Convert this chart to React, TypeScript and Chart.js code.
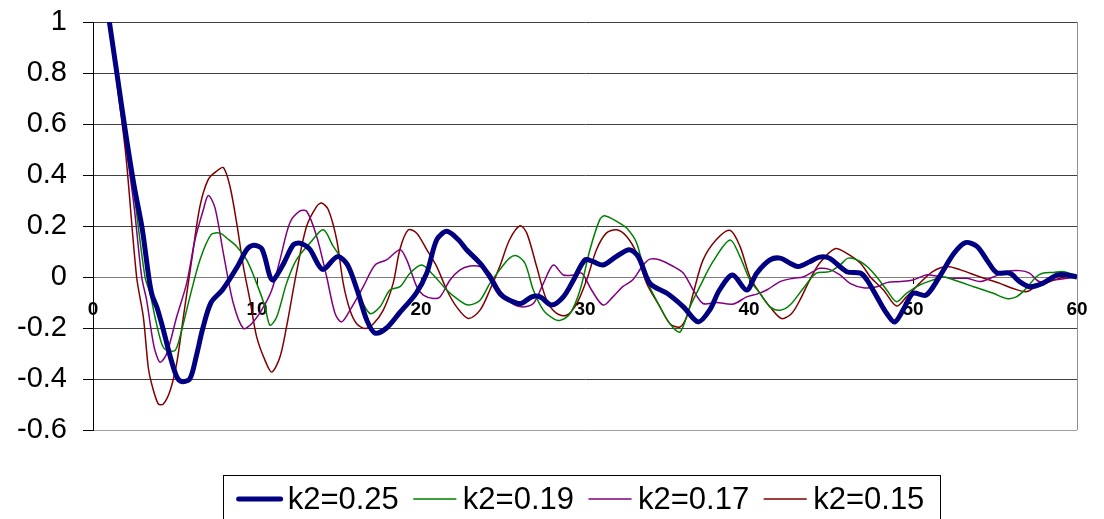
import React, { useEffect, useRef } from 'react';
import { Chart, registerables } from 'chart.js';

Chart.register(...registerables);

const seriesLabels = ['k2=0.25', 'k2=0.19', 'k2=0.17', 'k2=0.15'];
const seriesColors = ['#000080', '#008000', '#800080', '#800000'];
const seriesWidths = [5, 1.5, 1.5, 1.5];
const xTicks = [0, 10, 20, 30, 40, 50, 60];
const yTicks = [-0.6, -0.4, -0.2, 0, 0.2, 0.4, 0.6, 0.8, 1];

const k025: [number, number][] = [
  [1, 1.0], [1.5, 0.78], [2, 0.56], [2.5, 0.36], [3, 0.19], [3.4, 0.0], [3.6, -0.07], [3.9, -0.12],
  [4.3, -0.21], [4.7, -0.31], [5.1, -0.39], [5.4, -0.41], [5.9, -0.4], [6.3, -0.31], [6.7, -0.2],
  [7.2, -0.1], [7.9, -0.05], [8.8, 0.04], [9.4, 0.11], [9.8, 0.125], [10.3, 0.11], [10.8, 0.0],
  [11.0, -0.012], [11.6, 0.05], [12.2, 0.125], [12.6, 0.133], [13.2, 0.11], [14.0, 0.03], [14.9, 0.08],
  [15.5, 0.05], [16.1, -0.05], [16.7, -0.17], [17.2, -0.22], [17.9, -0.2], [18.7, -0.14], [19.7, -0.064],
  [20.35, 0.015], [20.96, 0.146], [21.57, 0.179], [22.28, 0.146], [22.78, 0.107], [23.6, 0.054],
  [24.2, 0.0], [24.8, -0.064], [25.4, -0.091], [26.1, -0.104], [26.75, -0.078], [27.26, -0.078],
  [27.97, -0.11], [28.68, -0.078], [29.3, -0.012], [30.0, 0.067], [30.5, 0.06], [31.1, 0.047],
  [31.9, 0.08], [32.7, 0.107], [33.25, 0.08], [33.96, -0.025], [35.0, -0.064], [36.0, -0.117],
  [36.9, -0.176], [37.6, -0.13], [38.2, -0.051], [39.0, 0.008], [39.86, -0.051], [40.47, 0.015],
  [41.28, 0.067], [41.9, 0.074], [42.5, 0.054], [43.0, 0.041], [43.7, 0.06], [44.3, 0.078],
  [44.9, 0.074], [45.96, 0.021], [46.8, 0.015], [47.2, -0.012], [47.8, -0.078], [48.4, -0.143],
  [48.9, -0.176], [49.5, -0.117], [50.0, -0.064], [50.8, -0.071], [51.6, 0.0], [52.5, 0.093],
  [53.2, 0.135], [53.9, 0.12], [54.5, 0.067], [55.1, 0.017], [55.9, 0.015], [56.5, -0.018],
  [57.1, -0.038], [57.9, -0.025], [58.8, 0.008], [59.4, 0.008], [60, 0.0],
];

const k019: [number, number][] = [
  [1, 1.0], [1.5, 0.77], [2, 0.54], [2.5, 0.33], [3.17, 0.0], [3.48, -0.064], [3.78, -0.157],
  [4.19, -0.262], [4.5, -0.288], [5.0, -0.288], [5.3, -0.235], [5.91, -0.078], [6.52, 0.067],
  [7.2, 0.166], [7.74, 0.172], [8.15, 0.153], [8.76, 0.12], [9.37, 0.067], [9.98, -0.025],
  [10.49, -0.117], [10.79, -0.189], [11.2, -0.157], [11.8, -0.025], [12.4, 0.067], [13.23, 0.133],
  [14.04, 0.185], [14.65, 0.12], [15.47, 0.041], [16.28, -0.078], [16.89, -0.143], [17.5, -0.117],
  [18.1, -0.051], [18.72, -0.038], [19.33, 0.015], [20.04, 0.047], [20.75, 0.008], [21.57, -0.051],
  [22.17, -0.084], [22.89, -0.11], [23.6, -0.091], [24.2, -0.025], [24.8, 0.028], [25.4, 0.074],
  [25.83, 0.083], [26.34, 0.054], [26.85, -0.051], [27.46, -0.13], [28.07, -0.163], [28.48, -0.17],
  [29.09, -0.143], [29.7, -0.051], [30.3, 0.107], [30.9, 0.225], [31.2, 0.24], [31.93, 0.218],
  [32.54, 0.192], [33.15, 0.133], [33.76, -0.012], [34.57, -0.117], [35.18, -0.183], [35.79, -0.216],
  [36.4, -0.117], [37.0, -0.038], [37.8, 0.06], [38.84, 0.145], [39.45, 0.08], [40.06, -0.012],
  [40.67, -0.064], [41.28, -0.117], [41.9, -0.13], [42.5, -0.11], [43.3, -0.045], [44.1, 0.015],
  [44.9, 0.021], [45.55, 0.047], [46.05, 0.074], [46.8, 0.06], [47.6, 0.015], [48.4, -0.051],
  [49.0, -0.097], [49.6, -0.064], [50.4, -0.032], [51.2, -0.012], [51.85, 0.0], [52.5, -0.012],
  [53.7, -0.038], [54.9, -0.064], [55.7, -0.084], [56.3, -0.078], [56.9, -0.045], [57.5, 0.0],
  [57.9, 0.015], [58.55, 0.018], [59.2, 0.021], [60, 0.004],
];

const k017: [number, number][] = [
  [1, 1.0], [1.5, 0.76], [2, 0.52], [2.5, 0.28], [2.97, 0.0], [3.27, -0.091], [3.58, -0.222],
  [3.78, -0.288], [4.09, -0.334], [4.49, -0.301], [5.1, -0.157], [5.71, -0.025], [6.22, 0.146],
  [6.73, 0.264], [7.03, 0.32], [7.44, 0.271], [7.95, 0.093], [8.56, -0.104], [9.17, -0.202],
  [9.67, -0.183], [10.28, -0.13], [10.9, -0.051], [11.4, 0.067], [12.0, 0.212], [12.6, 0.258],
  [13.03, 0.258], [13.64, 0.159], [14.25, 0.0], [14.76, -0.143], [15.16, -0.176], [15.67, -0.13],
  [16.48, -0.038], [17.2, 0.047], [17.9, 0.067], [18.72, 0.107], [19.13, 0.067], [19.74, -0.038],
  [20.14, -0.071], [20.75, -0.084], [21.16, -0.078], [21.77, -0.012], [22.38, 0.028], [22.99, 0.043],
  [23.6, 0.041], [24.2, 0.015], [24.8, -0.051], [25.4, -0.097], [26.1, -0.117], [26.85, -0.104],
  [27.46, -0.025], [28.07, 0.047], [28.68, 0.008], [29.3, 0.008], [29.8, 0.015], [30.4, -0.051],
  [31.1, -0.11], [31.7, -0.078], [32.3, -0.038], [32.9, -0.012], [33.55, 0.047], [33.96, 0.07],
  [34.57, 0.067], [35.4, 0.041], [36.0, 0.015], [36.6, -0.051], [37.2, -0.104], [38.0, -0.1],
  [39.04, -0.106], [39.86, -0.078], [40.47, -0.067], [41.08, -0.051], [41.9, -0.018], [42.7, -0.005],
  [43.3, 0.0], [43.9, 0.021], [44.3, 0.034], [44.9, 0.03], [45.55, 0.008], [46.16, -0.025],
  [46.97, -0.042], [47.8, -0.038], [48.4, -0.022], [49.2, -0.018], [50.0, -0.012], [50.8, 0.008],
  [51.4, 0.004], [52.5, -0.005], [53.3, -0.005], [54.1, -0.018], [54.9, 0.0], [55.7, 0.021],
  [56.5, 0.025], [57.1, 0.015], [57.7, -0.018], [58.55, -0.012], [59.4, -0.005], [60, 0.0],
];

const k015: [number, number][] = [
  [1, 1.0], [1.5, 0.74], [2, 0.48], [2.66, 0.0], [3.07, -0.157], [3.37, -0.355], [3.58, -0.42],
  [3.98, -0.498], [4.29, -0.498], [4.7, -0.446], [5.1, -0.34], [5.51, -0.157], [6.02, 0.067],
  [6.52, 0.277], [7.03, 0.383], [7.54, 0.415], [7.95, 0.429], [8.35, 0.356], [8.76, 0.212],
  [9.17, 0.041], [9.57, -0.091], [9.98, -0.235], [10.49, -0.327], [10.9, -0.373], [11.4, -0.314],
  [11.8, -0.196], [12.4, 0.015], [13.02, 0.198], [13.64, 0.277], [13.94, 0.29], [14.35, 0.264],
  [14.86, 0.146], [15.26, -0.025], [15.67, -0.13], [16.08, -0.183], [16.59, -0.202], [17.1, -0.183],
  [17.7, -0.13], [18.3, -0.025], [18.72, 0.11], [19.23, 0.185], [19.74, 0.172], [20.35, 0.107],
  [20.96, 0.041], [21.57, -0.051], [22.17, -0.117], [22.89, -0.163], [23.6, -0.13], [24.2, -0.051],
  [24.8, 0.041], [25.4, 0.146], [26.04, 0.201], [26.45, 0.172], [27.05, 0.041], [27.66, -0.091],
  [28.27, -0.143], [28.88, -0.15], [29.5, -0.104], [30.1, -0.012], [30.7, 0.107], [31.3, 0.172],
  [31.93, 0.185], [32.54, 0.159], [33.15, 0.093], [33.76, -0.025], [34.57, -0.117], [35.18, -0.183],
  [35.79, -0.196], [36.2, -0.157], [36.6, -0.064], [37.2, 0.067], [38.0, 0.146], [38.84, 0.183],
  [39.45, 0.12], [40.06, 0.0], [40.67, -0.064], [41.28, -0.117], [41.99, -0.163], [42.6, -0.143],
  [43.1, -0.091], [43.7, -0.012], [44.3, 0.054], [45.24, 0.111], [45.96, 0.093], [46.8, 0.054],
  [47.4, 0.0], [48.2, -0.051], [49.0, -0.114], [49.6, -0.078], [50.4, -0.025], [51.2, 0.021],
  [52.05, 0.041], [52.9, 0.028], [54.1, 0.0], [55.3, -0.025], [56.1, -0.045], [56.9, -0.058],
  [57.5, -0.038], [58.35, -0.018], [59.2, 0.0], [60, 0.004],
];

const seriesData = [k025, k019, k017, k015];

const FONT = 'Arial, "Liberation Sans", sans-serif';

const framePlugin = {
  id: 'frameAndLegend',
  beforeDatasetsDraw(chart: any) {
    const { ctx, chartArea } = chart;
    ctx.save();
    ctx.strokeStyle = '#909090';
    ctx.lineWidth = 1;
    ctx.beginPath();
    ctx.moveTo(Math.round(chartArea.right) + 0.5, chartArea.top);
    ctx.lineTo(Math.round(chartArea.right) + 0.5, chartArea.bottom);
    ctx.stroke();
    ctx.restore();
  },
  afterDraw(chart: any) {
    const ctx = chart.ctx;
    ctx.save();
    const boxL = 223, boxT = 475, boxW = 717, boxH = 60;
    ctx.strokeStyle = '#000';
    ctx.lineWidth = 1;
    ctx.strokeRect(boxL + 0.5, boxT + 0.5, boxW, boxH);
    ctx.font = `31px ${FONT}`;
    ctx.textBaseline = 'middle';
    ctx.textAlign = 'left';
    const cy = 499;
    const lineLen = 42, gapA = 7, gapB = 15;
    const ds = chart.data.datasets;
    const widths = ds.map((d: any) => ctx.measureText(d.label).width);
    const total = widths.reduce((a: number, w: number) => a + lineLen + gapA + w, 0) + gapB * (ds.length - 1);
    let x = boxL + (boxW - total) / 2;
    ds.forEach((d: any, i: number) => {
      ctx.strokeStyle = d.borderColor;
      ctx.lineWidth = d.borderWidth;
      ctx.lineCap = 'round';
      ctx.beginPath();
      ctx.moveTo(x, cy);
      ctx.lineTo(x + lineLen, cy);
      ctx.stroke();
      x += lineLen + gapA;
      ctx.fillStyle = '#000';
      ctx.fillText(d.label, x, cy + 1);
      x += widths[i] + gapB;
    });
    ctx.restore();
  },
};

export default function App() {
  const canvasRef = useRef<HTMLCanvasElement>(null);

  useEffect(() => {
    const canvas = canvasRef.current;
    if (!canvas) return;
    const chart = new Chart(canvas, {
      type: 'line',
      data: {
        datasets: seriesData.map((pts, i) => ({
          label: seriesLabels[i],
          data: pts.map(([x, y]) => ({ x, y })),
          borderColor: seriesColors[i],
          backgroundColor: seriesColors[i],
          borderWidth: seriesWidths[i],
          pointRadius: 0,
          tension: 0.3,
          fill: false,
        })),
      },
      options: {
        responsive: false,
        devicePixelRatio: 1,
        animation: false,
        layout: { padding: { left: 0, top: 22, right: 27, bottom: 89 } },
        plugins: {
          legend: { display: false },
          tooltip: { enabled: false },
          title: { display: false },
        },
        scales: {
          x: {
            type: 'linear',
            min: 0,
            max: 60,
            position: { y: 0 } as any,
            afterBuildTicks: (s: any) => {
              s.ticks = xTicks.map((v) => ({ value: v }));
            },
            afterFit: (s: any) => {
              s.paddingLeft = 0;
              s.paddingRight = 0;
            },
            ticks: {
              callback: (v: any) => String(v),
              font: { family: FONT, size: 19, weight: 'bold' },
              color: '#000',
              padding: 15,
              maxRotation: 0,
              autoSkip: false,
            },
            grid: {
              display: true,
              drawOnChartArea: false,
              drawTicks: true,
              tickLength: 6,
              tickColor: '#000',
            },
            border: { display: true, color: '#808080', width: 1 },
          },
          y: {
            type: 'linear',
            min: -0.6,
            max: 1,
            afterBuildTicks: (s: any) => {
              s.ticks = yTicks.map((v) => ({ value: v }));
            },
            afterFit: (s: any) => {
              s.width = 93;
              s.paddingTop = 0;
              s.paddingBottom = 0;
            },
            ticks: {
              callback: (v: any) => String(v),
              font: { family: FONT, size: 29 },
              color: '#000',
              padding: 16,
              autoSkip: false,
            },
            grid: {
              display: true,
              drawTicks: true,
              tickLength: 10,
              tickColor: '#000',
              color: (c: any) => {
                const v = c.tick ? c.tick.value : null;
                if (v === 0) return '#808080';
                if (v === -0.6) return '#a0a0a0';
                return '#404040';
              },
            },
            border: { display: true, color: '#000', width: 1 },
          },
        },
      },
      plugins: [framePlugin],
    });
    return () => chart.destroy();
  }, []);

  return (
    <div style={{ position: 'fixed', left: 0, top: 0, width: 1104, height: 519, background: '#fff' }}>
      <canvas ref={canvasRef} width={1104} height={519} style={{ display: 'block', width: 1104, height: 519 }} />
    </div>
  );
}
